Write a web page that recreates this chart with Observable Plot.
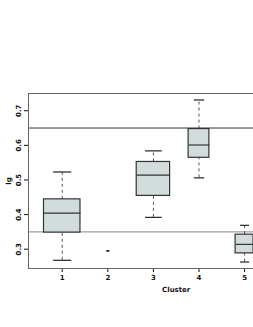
<!DOCTYPE html>
<html>
<head>
<meta charset="utf-8">
<script src="https://cdn.jsdelivr.net/npm/d3@7"></script>
<script src="https://cdn.jsdelivr.net/npm/@observablehq/plot@0.6"></script>
<style>
html, body { margin: 0; padding: 0; overflow: hidden; background: #fff; }
#chart { width: 253px; height: 327px; overflow: hidden; }
#chart svg { max-width: none !important; display: block; }
</style>
</head>
<body>
<div id="chart"></div>
<script>
// Data (the plot continues past the window's right edge)
const clusters   = [1, 2, 3, 4, 5];
const counts     = [37, 1, 31, 12, 9];
const lowWhisker = [0.268, 0.295, 0.392, 0.506, 0.263];
const q1         = [0.348, 0.295, 0.454, 0.564, 0.288];
const medians    = [0.404, 0.295, 0.514, 0.601, 0.314];
const q3         = [0.444, 0.295, 0.552, 0.647, 0.342];
const highWhisker= [0.523, 0.295, 0.584, 0.731, 0.369];
const refLines   = [0.65, 0.35];
const yTicks     = [0.3, 0.4, 0.5, 0.6, 0.7];
const xTicks     = [1, 2, 3, 4, 5];

const nMax = d3.max(counts);
const rows = clusters.map((c, i) => {
  const w = 0.8 * Math.sqrt(counts[i] / nMax);
  return {c, w, lo: lowWhisker[i], q1: q1[i], med: medians[i], q3: q3[i], hi: highWhisker[i]};
});
const boxes = rows.filter(r => r.q3 > r.q1);

const font = "'DejaVu Sans', sans-serif";
const plot = Plot.plot({
  width: 345,
  height: 327,
  marginLeft: 28,
  marginRight: 21.6,
  marginTop: 93,
  marginBottom: 59,
  style: {fontFamily: font, fontSize: "7px", fontWeight: "bold", background: "#fff", color: "#111", maxWidth: "none"},
  x: {domain: [0.26, 6.74], ticks: xTicks, tickFormat: d => String(d), label: "Cluster", labelAnchor: "center", labelArrow: "none", labelOffset: 23, tickSize: 4, tickPadding: 3},
  y: {domain: [0.2443, 0.7497], ticks: yTicks, tickFormat: d => d.toFixed(1), label: "lg", labelAnchor: "center", labelArrow: "none", labelOffset: 22, tickSize: 4, tickRotate: -90, tickPadding: 4},
  marks: [
    Plot.ruleY([refLines[0]], {stroke: "#333", strokeWidth: 1}),
    Plot.ruleY([refLines[1]], {stroke: "#888", strokeWidth: 1}),
    // whiskers
    Plot.ruleX(boxes, {x: "c", y1: "q3", y2: "hi", stroke: "#555", strokeDasharray: "3,3"}),
    Plot.ruleX(boxes, {x: "c", y1: "lo", y2: "q1", stroke: "#555", strokeDasharray: "3,3"}),
    // caps
    Plot.link(rows, {x1: d => d.c - d.w / 4, x2: d => d.c + d.w / 4, y1: "hi", y2: "hi", stroke: "#222", strokeWidth: 1.2}),
    Plot.link(rows, {x1: d => d.c - d.w / 4, x2: d => d.c + d.w / 4, y1: "lo", y2: "lo", stroke: "#222", strokeWidth: 1.2}),
    // boxes
    Plot.rect(boxes, {x1: d => d.c - d.w / 2, x2: d => d.c + d.w / 2, y1: "q1", y2: "q3", fill: "#d3dcdc", stroke: "#333", strokeWidth: 1.2}),
    Plot.link(boxes, {x1: d => d.c - d.w / 2, x2: d => d.c + d.w / 2, y1: "med", y2: "med", stroke: "#333", strokeWidth: 1.2}),
    Plot.frame({stroke: "#666"})
  ]
});
plot.style.maxWidth = "none";
document.getElementById("chart").append(plot);
</script>
</body>
</html>
